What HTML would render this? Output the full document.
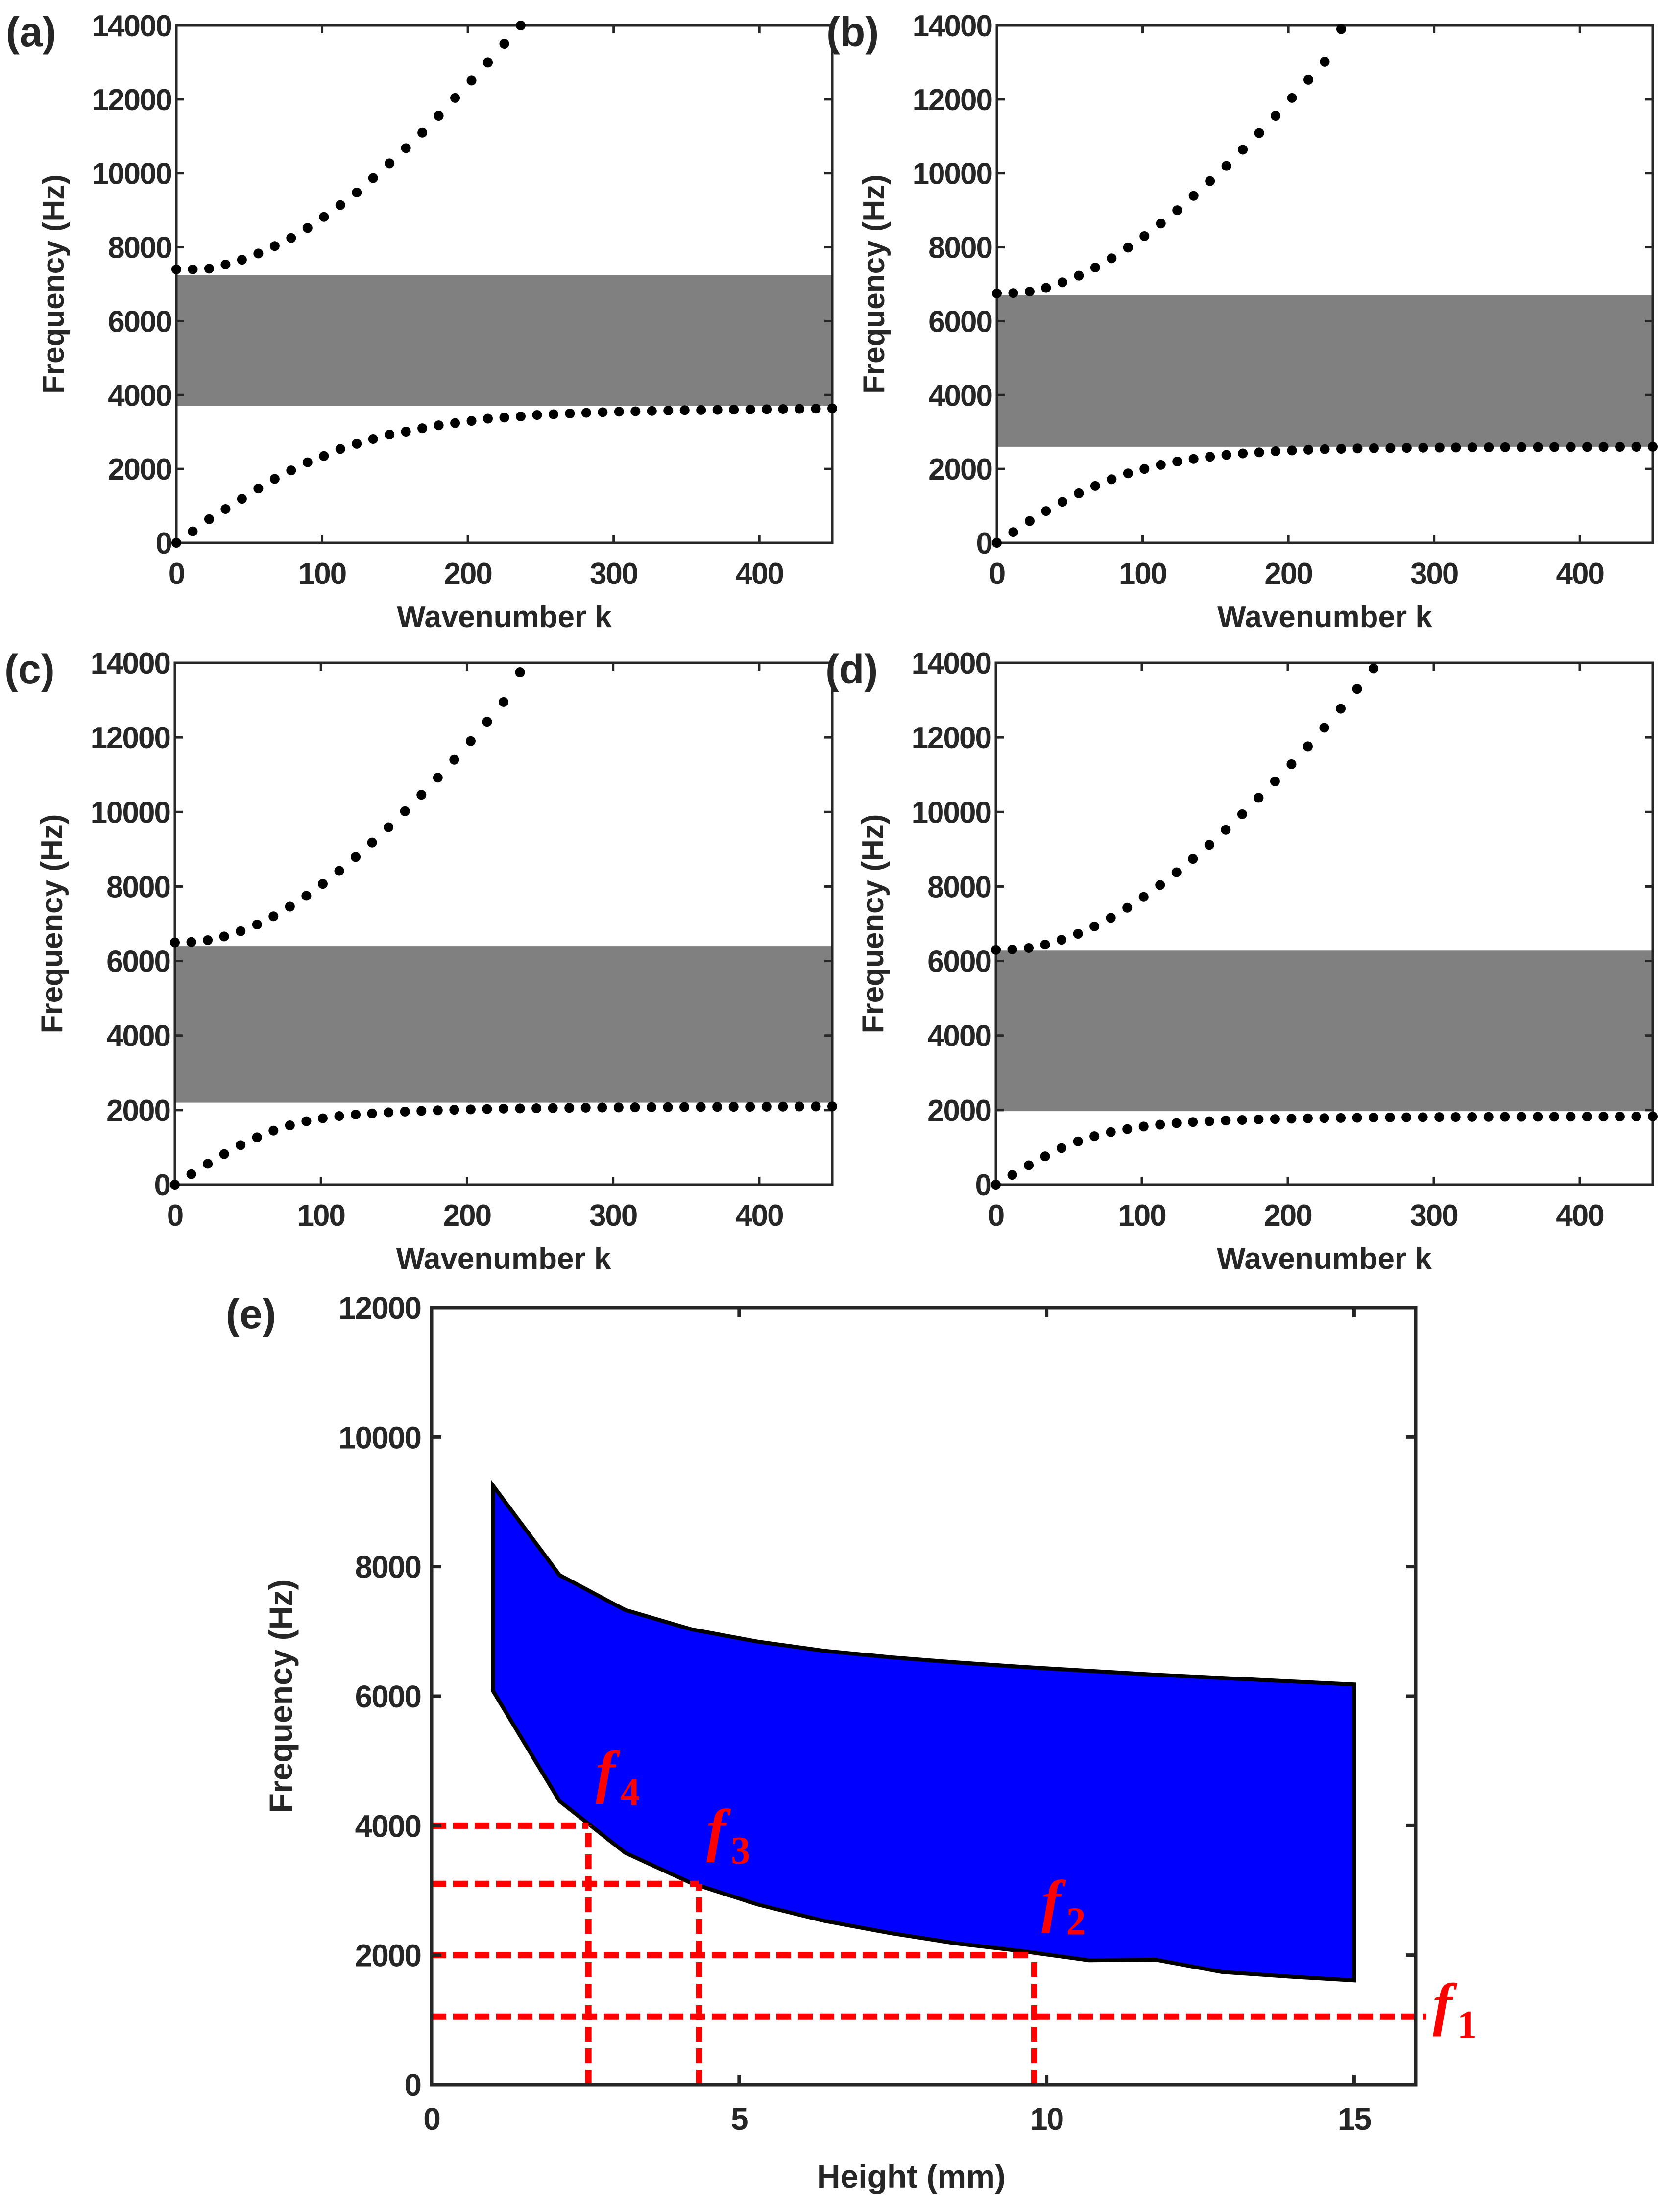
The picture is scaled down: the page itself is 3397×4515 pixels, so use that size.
<!DOCTYPE html>
<html><head><meta charset="utf-8"><style>
html,body{margin:0;padding:0;background:#fff;}
svg{display:block;}
text{font-family:"Liberation Sans",sans-serif;font-weight:bold;fill:#262626;}
</style></head><body>
<svg id="fig" width="3397" height="4515" viewBox="0 0 3397 4515" xmlns="http://www.w3.org/2000/svg"></svg>
<script>
// ---- data ----
const kStep = 11.25;
const kTicks = [0,100,200,300,400];
const fTicks = [0,2000,4000,6000,8000,10000,12000,14000];
const gapA = [3700,7250], gapB = [2600,6700], gapC = [2200,6400], gapD = [1970,6280];
const lowA = [0,310,640,915,1190,1470,1730,1960,2180,2350,2540,2680,2810,2930,3010,3100,3180,3240,3300,3360,3390,3420,3460,3480,3500,3520,3535,3550,3560,3570,3580,3590,3595,3600,3605,3610,3615,3620,3625,3630,3640];
const upA = [7400,7400,7420,7530,7660,7830,8030,8250,8520,8820,9140,9480,9870,10270,10680,11100,11560,12040,12510,13000,13510,14000];
const lowB = [0,290,590,860,1110,1340,1540,1720,1880,2000,2110,2200,2270,2330,2380,2420,2450,2480,2500,2520,2535,2545,2555,2560,2565,2570,2575,2578,2580,2583,2585,2587,2590,2590,2592,2594,2595,2596,2598,2599,2600];
const upB = [6750,6760,6800,6900,7050,7230,7450,7700,7990,8300,8640,9000,9390,9790,10200,10640,11090,11560,12040,12530,13020,13900];
const lowC = [0,280,560,820,1060,1270,1450,1590,1700,1780,1840,1880,1910,1940,1960,1980,1995,2010,2020,2030,2040,2045,2050,2055,2060,2065,2070,2072,2075,2078,2080,2082,2085,2087,2089,2090,2092,2094,2096,2098,2100];
const upC = [6500,6510,6560,6660,6800,6980,7200,7460,7750,8070,8420,8790,9180,9590,10020,10460,10920,11400,11900,12420,12950,13750];
const lowD = [0,260,520,760,980,1160,1300,1410,1490,1560,1610,1650,1680,1700,1720,1735,1750,1760,1770,1778,1785,1790,1795,1800,1803,1806,1809,1812,1814,1816,1818,1820,1821,1822,1823,1824,1825,1826,1827,1828,1830];
const upD = [6300,6310,6350,6440,6570,6730,6930,7160,7430,7720,8040,8380,8740,9120,9520,9940,10380,10820,11280,11760,12260,12770,13300,13850];
// panel e
const heights = [1,2.08,3.15,4.23,5.31,6.38,7.46,8.54,9.62,10.69,11.77,12.85,13.92,15];
const upperE = [9250,7870,7330,7030,6840,6700,6600,6520,6450,6390,6330,6280,6230,6180];
const lowerE = [6080,4380,3580,3110,2780,2530,2340,2180,2060,1920,1930,1740,1670,1610];
const hTicks = [0,5,10,15];
const eFTicks = [0,2000,4000,6000,8000,10000,12000];
const markFreqs = [1050,2000,3100,4000];
const markHeights = [null,9.8,4.35,2.55];
const markLabels = ['1','2','3','4'];

const NS="http://www.w3.org/2000/svg";
const svg=document.getElementById('fig');
function el(tag,attrs,parent){const e=document.createElementNS(NS,tag);for(const k in attrs)e.setAttribute(k,attrs[k]);(parent||svg).appendChild(e);return e;}

function panel(id,L,R,T,B,gap,low,up){
  const g=el('g',{});
  
  
  const X=k=>L+(k/450)*(R-L), Y=f=>B-(f/14000)*(B-T);
  const band=el('rect',{x:L,y:Y(gap[1]),width:R-L,height:Y(gap[0])-Y(gap[1]),fill:'#808080'},g);
  
  
  const ax=el('rect',{x:L,y:T,width:R-L,height:B-T,fill:'none',stroke:'#262626','stroke-width':5},g);
  
  
  kTicks.forEach(k=>{
    el('line',{x1:X(k),x2:X(k),y1:B,y2:B-16,stroke:'#262626','stroke-width':5},g);
    el('line',{x1:X(k),x2:X(k),y1:T,y2:T+16,stroke:'#262626','stroke-width':5},g);
    const t=el('text',{x:X(k),y:B+84,'font-size':62,'text-anchor':'middle','letter-spacing':'-2'},g);t.textContent=k;
    
    
  });
  fTicks.forEach(f=>{
    el('line',{x1:L,x2:L+16,y1:Y(f),y2:Y(f),stroke:'#262626','stroke-width':5},g);
    el('line',{x1:R,x2:R-16,y1:Y(f),y2:Y(f),stroke:'#262626','stroke-width':5},g);
    const t=el('text',{x:L-10,y:Y(f)+22,'font-size':62,'text-anchor':'end','letter-spacing':'-2'},g);t.textContent=f;
    
    
  });
  [low,up].forEach((arr,si)=>arr.forEach((f,i)=>{
    const c=el('circle',{cx:X(i*kStep),cy:Y(f),r:10,fill:'#000'},g);
    
    
  }));
  const xt=el('text',{x:(L+R)/2,y:B+172,'font-size':62,'text-anchor':'middle'},g);xt.textContent='Wavenumber k';
  
  
  const yt=el('text',{x:0,y:0,'font-size':62,'text-anchor':'middle',transform:`translate(${L-230},${(T+B)/2}) rotate(-90)`},g);yt.textContent='Frequency (Hz)';
  
  
  const pl=el('text',{x:L-348,y:T+42,'font-size':84,fill:'#000'},g);pl.textContent='('+id+')';
  
  
}
panel('a',360,1699,52,1108,gapA,lowA,upA);
panel('b',2035,3374,52,1108,gapB,lowB,upB);
panel('c',357,1699,1353,2418,gapC,lowC,upC);
panel('d',2033,3374,1353,2418,gapD,lowD,upD);

// panel e
(function(){
  const L=881,R=2890,T=2669,B=4255;
  const g=el('g',{});
  
  
  const X=h=>L+(h/16)*(R-L), Y=f=>B-(f/12000)*(B-T);
  let pts=heights.map((h,i)=>X(h)+','+Y(upperE[i]));
  for(let i=heights.length-1;i>=0;i--)pts.push(X(heights[i])+','+Y(lowerE[i]));
  const poly=el('polygon',{points:pts.join(' '),fill:'#0000ff',stroke:'#000','stroke-width':8,'stroke-linejoin':'miter'},g);
  
  
  markFreqs.forEach((f,i)=>{
    const xe=markHeights[i]===null?2912:X(markHeights[i]);
    const hl=el('line',{x1:L,x2:xe,y1:Y(f),y2:Y(f),stroke:'#ff0000','stroke-width':13,'stroke-dasharray':'30 14'},g);
    
    
    if(markHeights[i]!==null){
      const vl=el('line',{x1:xe,x2:xe,y1:B,y2:Y(f),stroke:'#ff0000','stroke-width':13,'stroke-dasharray':'30 14'},g);
      
      
    }
    const lx=markHeights[i]===null?2925:xe+15, ly=Y(f)-(markHeights[i]===null?-15:70);
    const t=el('text',{x:lx,y:ly,'font-size':120,style:'font-family:"Liberation Serif",serif;font-style:italic;font-weight:bold;fill:#ff0000'},g);
    t.textContent='f';
    const s=el('tspan',{dx:10,dy:28,'font-size':80,style:'font-style:normal;font-weight:bold;fill:#ff0000'},t);s.textContent=markLabels[i];
    
    
  });
  const ax=el('rect',{x:L,y:T,width:R-L,height:B-T,fill:'none',stroke:'#262626','stroke-width':7},g);
  
  
  hTicks.forEach(h=>{
    el('line',{x1:X(h),x2:X(h),y1:B,y2:B-20,stroke:'#262626','stroke-width':7},g);
    el('line',{x1:X(h),x2:X(h),y1:T,y2:T+20,stroke:'#262626','stroke-width':7},g);
    const t=el('text',{x:X(h),y:B+92,'font-size':64,'text-anchor':'middle','letter-spacing':'-2'},g);t.textContent=h;
    
    
  });
  eFTicks.forEach(f=>{
    el('line',{x1:L,x2:L+20,y1:Y(f),y2:Y(f),stroke:'#262626','stroke-width':7},g);
    el('line',{x1:R,x2:R-20,y1:Y(f),y2:Y(f),stroke:'#262626','stroke-width':7},g);
    const t=el('text',{x:L-22,y:Y(f)+23,'font-size':64,'text-anchor':'end','letter-spacing':'-2'},g);t.textContent=f;
    
    
  });
  const xt=el('text',{x:X(7.8),y:B+210,'font-size':66,'text-anchor':'middle'},g);xt.textContent='Height (mm)';
  
  
  const yt=el('text',{x:0,y:0,'font-size':66,'text-anchor':'middle',transform:`translate(${L-285},${Y(6000)}) rotate(-90)`},g);yt.textContent='Frequency (Hz)';
  
  
  const pl=el('text',{x:L-420,y:T+42,'font-size':84,fill:'#000'},g);pl.textContent='(e)';
  
  
})();
</script>
</body></html>
